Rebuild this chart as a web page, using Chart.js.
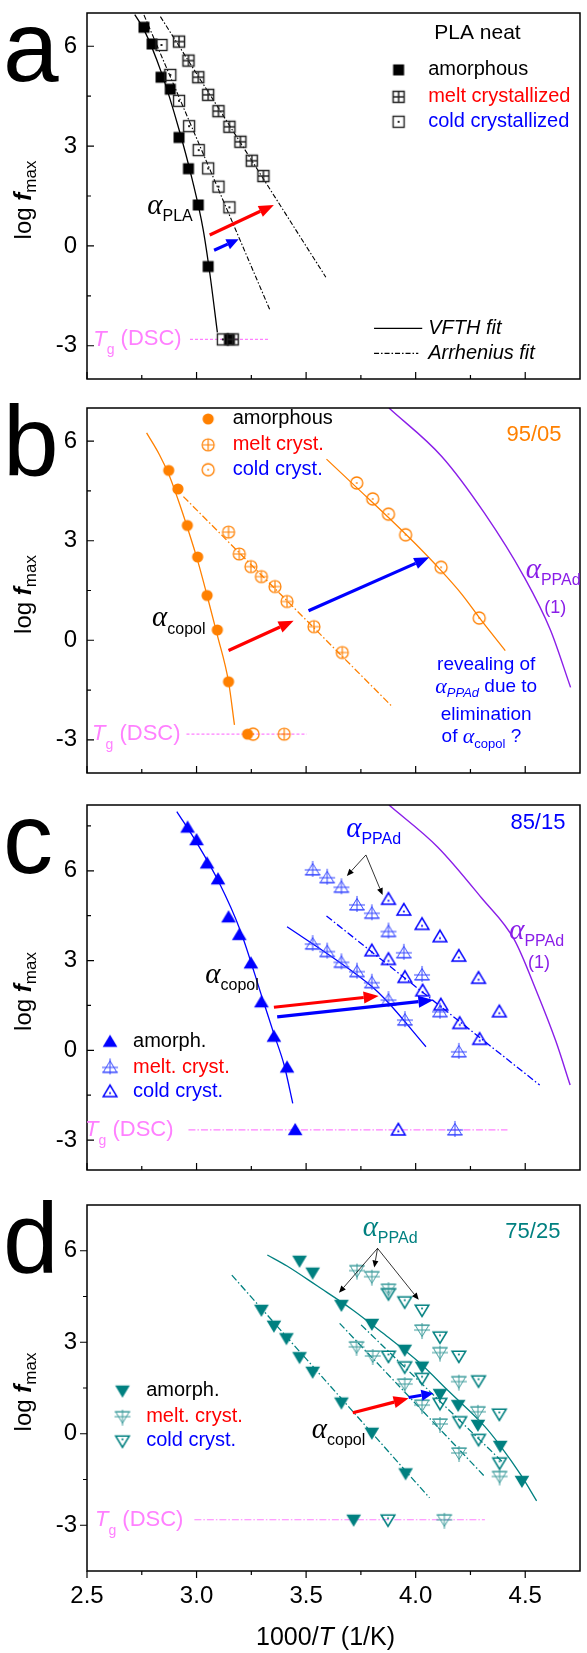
<!DOCTYPE html>
<html>
<head>
<meta charset="utf-8">
<script src="https://cdn.jsdelivr.net/npm/chart.js@4.4.1/dist/chart.umd.min.js"></script>
<style>
  html, body { margin: 0; padding: 0; background: #fff; }
  #wrap { position: relative; width: 587px; height: 1653px; overflow: hidden; }
  #wrap canvas { position: absolute; left: 0; top: 0; }
</style>
</head>
<body>
<div id="wrap">
  <canvas id="pa" width="587" height="1653"></canvas>
  <canvas id="pb" width="587" height="1653"></canvas>
  <canvas id="pc" width="587" height="1653"></canvas>
  <canvas id="pd" width="587" height="1653"></canvas>
</div>
<script>
// ---------- shared axes ----------
const X_MIN = 2.5, X_MAX = 4.75;
const xMajorTicks = [2.5, 3.0, 3.5, 4.0, 4.5];
const xMinorTicks = [2.75, 3.25, 3.75, 4.25];
const xTickText = ['2.5', '3.0', '3.5', '4.0', '4.5'];
const yMajorTicks = [-3, 0, 3, 6];
const yMinorTicks = [-4.5, -1.5, 1.5, 4.5, 7.5];
const yTickText = ['-3', '0', '3', '6'];

// ---------- (a) PLA neat ----------
const aAmorphX = [2.76, 2.797, 2.838, 2.88, 2.92, 2.963, 3.008, 3.053];
const aAmorphY = [6.57, 6.07, 5.07, 4.71, 3.26, 2.32, 1.23, -0.62];
const aMeltX = [2.92, 2.963, 3.008, 3.053, 3.10, 3.15, 3.20, 3.252, 3.305];
const aMeltY = [6.14, 5.57, 5.07, 4.54, 4.05, 3.58, 3.13, 2.56, 2.10];
const aColdX = [2.84, 2.88, 2.92, 2.966, 3.01, 3.053, 3.10, 3.15];
const aColdY = [6.04, 5.14, 4.36, 3.60, 2.88, 2.33, 1.78, 1.16];
const aTgLevel = -2.81;
const aTgAmorphX = [3.15], aTgMeltX = [3.165], aTgColdX = [3.12];
const aTgLineX = [2.970, 3.335];
const aVfthX = [2.718, 2.76, 2.84, 2.92, 2.98, 3.03, 3.06, 3.095];
const aVfthY = [6.95, 6.5, 5.2, 3.5, 2.0, 0.5, -0.8, -2.6];
const aArrColdX = [2.76, 3.335], aArrColdY = [6.94, -1.93];
const aArrMeltX = [2.835, 3.59], aArrMeltY = [6.89, -0.94];

// ---------- (b) 95/05 ----------
const bAmorphX = [2.873, 2.915, 2.958, 3.005, 3.048, 3.095, 3.146];
const bAmorphY = [5.12, 4.56, 3.46, 2.51, 1.35, 0.31, -1.25];
const bMeltX = [3.146, 3.195, 3.248, 3.296, 3.358, 3.413, 3.536, 3.665];
const bMeltY = [3.26, 2.60, 2.22, 1.92, 1.62, 1.17, 0.41, -0.37];
const bColdX = [3.731, 3.804, 3.876, 3.954, 4.116, 4.29];
const bColdY = [4.74, 4.26, 3.80, 3.18, 2.20, 0.67];
const bTgLevel = -2.83;
const bTgAmorphX = [3.233], bTgMeltX = [3.40], bTgColdX = [3.258];
const bTgLineX = [2.954, 3.503];
const bVfthAmX = [2.772, 2.83, 2.873, 2.915, 2.958, 3.005, 3.048, 3.095, 3.146, 3.173];
const bVfthAmY = [6.25, 5.6, 5.0, 4.25, 3.4, 2.4, 1.35, 0.15, -1.25, -2.55];
const bArrMeltX = [2.94, 3.896], bArrMeltY = [4.33, -2.02];
const bVfthColdX = [3.593, 3.731, 3.876, 4.0, 4.116, 4.209, 4.30, 4.409];
const bVfthColdY = [5.46, 4.6, 3.7, 2.9, 2.1, 1.4, 0.6, -0.31];
const bPpadX = [3.878, 4.119, 4.314, 4.494, 4.615, 4.707];
const bPpadY = [7.0, 5.54, 3.83, 1.92, 0.31, -1.42];

// ---------- (c) 85/15 ----------
const cAmorphX = [2.959, 3.0, 3.048, 3.098, 3.146, 3.195, 3.248, 3.296, 3.353, 3.413];
const cAmorphY = [7.45, 7.03, 6.25, 5.72, 4.45, 3.86, 2.91, 1.61, 0.46, -0.57];
const cMeltX = [3.530, 3.596, 3.661, 3.732, 3.800, 3.876, 3.946, 4.029, 4.111, 4.197,
                3.530, 3.596, 3.661, 3.732, 3.800, 3.876, 3.951];
const cMeltY = [6.03, 5.77, 5.45, 4.86, 4.58, 3.97, 3.26, 2.52, 1.29, -0.05,
                3.55, 3.30, 2.94, 2.63, 2.26, 1.68, 1.01];
const cColdX = [3.876, 3.946, 4.029, 4.111, 4.197, 4.287, 4.382,
                3.800, 3.876, 3.951, 4.032, 4.115, 4.201, 4.292];
const cColdY = [5.05, 4.69, 4.21, 3.80, 3.15, 2.41, 1.29,
                3.33, 3.04, 2.44, 1.99, 1.52, 0.90, 0.37];
const cTgLevel = -2.66;
const cTgAmorphX = [3.45], cTgMeltX = [4.179], cTgColdX = [3.921];
const cTgLineX = [2.963, 4.419];
const cVfthAmX = [2.91, 3.0, 3.1, 3.2, 3.3, 3.353, 3.40, 3.439];
const cVfthAmY = [7.98, 6.95, 5.65, 4.0, 1.75, 0.55, -0.5, -1.77];
const cVfthMeltX = [3.413, 3.638, 3.80, 3.864, 4.047];
const cVfthMeltY = [4.13, 3.02, 2.13, 1.68, 0.12];
const cArrColdX = [3.593, 4.566], cArrColdY = [4.49, -1.16];
const cPpadX = [3.878, 4.10, 4.30, 4.45, 4.55, 4.64, 4.705];
const cPpadY = [8.2, 6.8, 5.1, 3.7, 2.0, 0.3, -1.16];

// ---------- (d) 75/25 ----------
const dAmorphX = [3.470, 3.530, 3.661, 3.800, 3.950, 4.029, 4.111, 4.194, 4.284, 4.386, 4.485,
                  3.296, 3.353, 3.410, 3.470, 3.530, 3.661, 3.800, 3.954];
const dAmorphY = [5.67, 5.28, 4.22, 3.60, 2.75, 2.20, 1.30, 0.94, 0.29, -0.40, -1.55,
                  4.06, 3.54, 3.13, 2.51, 2.03, 1.02, 0.03, -1.3];
const dMeltX = [3.732, 3.800, 3.876, 4.029, 4.111, 4.197, 4.284,
                3.730, 3.804, 3.950, 4.029, 4.111, 4.198, 4.383];
const dMeltY = [5.35, 5.15, 4.74, 3.40, 2.66, 1.71, 0.72,
                2.85, 2.55, 1.63, 0.94, 0.32, -0.63, -1.4];
const dColdX = [3.876, 3.950, 4.029, 4.111, 4.197, 4.287, 4.382,
                3.876, 3.950, 4.029, 4.111, 4.201, 4.287, 4.383];
const dColdY = [4.60, 4.33, 4.06, 3.18, 2.55, 1.74, 0.65,
                2.55, 2.20, 1.82, 1.0, 0.4, -0.18, -0.95];
const dTgLevel = -2.82;
const dTgAmorphX = [3.717], dTgMeltX = [4.131], dTgColdX = [3.874];
const dTgLineX = [2.99, 4.316];
const dVfthX = [3.323, 3.413, 3.55, 3.713, 3.85, 4.014, 4.15, 4.314, 4.389, 4.48, 4.552];
const dVfthY = [5.86, 5.5, 4.85, 4.06, 3.3, 2.35, 1.4, 0.25, -0.42, -1.35, -2.2];
const dArrAmX = [3.161, 4.063], dArrAmY = [5.2, -2.1];
const dArrMeltX = [3.653, 4.316], dArrMeltY = [3.62, -1.41];
const dArrColdX = [3.751, 4.40], dArrColdY = [3.57, -0.95];

// ---------- styling ----------
const SANS = '"Liberation Sans", Arial, Helvetica, sans-serif';
const SERIF = '"Liberation Serif", "DejaVu Serif", serif';
const ORANGE = '#ff8000', BLUE = '#0000ff', TEAL = '#008080', PURPLE = '#8a1ee8', PINK = '#ff80ff', RED = '#ff0000';
const PLOT_LEFT = 87, PLOT_RIGHT = 586, PAGE_H = 1653, PAGE_W = 587;

const zip = (xs, ys) => xs.map((x, i) => ({ x, y: ys[i] }));
const flat = (xs, y) => xs.map(x => ({ x, y }));

// ---------- marker glyphs ----------
function marker(kind, color, lw) {
  const S = 22, m = S / 2;
  const c = document.createElement('canvas');
  c.width = S; c.height = S;
  const g = c.getContext('2d');
  g.strokeStyle = color; g.fillStyle = color; g.lineWidth = lw || 1.3;
  g.lineJoin = 'miter';
  const tri = (down, h) => {
    const s = down ? -1 : 1;
    g.beginPath();
    g.moveTo(m, m - s * h);
    g.lineTo(m - h * 1.05, m + s * h * 0.75);
    g.lineTo(m + h * 1.05, m + s * h * 0.75);
    g.closePath();
  };
  switch (kind) {
    case 'sqFill': g.fillRect(m - 5.5, m - 5.5, 11, 11); break;
    case 'sqCross':
      g.strokeRect(m - 5.5, m - 5.5, 11, 11);
      g.beginPath(); g.moveTo(m, m - 5.5); g.lineTo(m, m + 5.5); g.moveTo(m - 5.5, m); g.lineTo(m + 5.5, m); g.stroke();
      break;
    case 'sqDot':
      g.strokeRect(m - 5.5, m - 5.5, 11, 11);
      g.fillRect(m - 1, m - 1, 2, 2);
      break;
    case 'cirFill': g.beginPath(); g.arc(m, m, 5.6, 0, Math.PI * 2); g.fill(); break;
    case 'cirCross':
      g.beginPath(); g.arc(m, m, 6, 0, Math.PI * 2); g.stroke();
      g.beginPath(); g.moveTo(m, m - 6); g.lineTo(m, m + 6); g.moveTo(m - 6, m); g.lineTo(m + 6, m); g.stroke();
      break;
    case 'cirDot':
      g.beginPath(); g.arc(m, m, 6, 0, Math.PI * 2); g.stroke();
      g.fillRect(m - 0.8, m - 0.8, 1.6, 1.6);
      break;
    case 'triUpFill': tri(false, 7); g.fill(); break;
    case 'triDownFill': tri(true, 7); g.fill(); break;
    case 'triUpDot': tri(false, 6.5); g.stroke(); g.fillRect(m - 0.9, m + 0.6, 1.8, 1.8); break;
    case 'triDownDot': tri(true, 6.5); g.stroke(); g.fillRect(m - 0.9, m - 2.4, 1.8, 1.8); break;
    case 'triUpCross':
      tri(false, 6.5); g.stroke();
      g.beginPath(); g.moveTo(m, m - 9); g.lineTo(m, m + 7);
      g.moveTo(m - 8, m); g.lineTo(m + 8, m);
      g.moveTo(m - 8, m + 4.9); g.lineTo(m + 8, m + 4.9); g.stroke();
      break;
    case 'triDownCross':
      tri(true, 6.5); g.stroke();
      g.beginPath(); g.moveTo(m, m + 9); g.lineTo(m, m - 7);
      g.moveTo(m - 8, m); g.lineTo(m + 8, m);
      g.moveTo(m - 8, m - 4.9); g.lineTo(m + 8, m - 4.9); g.stroke();
      break;
  }
  return c;
}

// ---------- dataset helpers ----------
function pts(data, glyph) {
  return { data, pointStyle: glyph, pointRadius: 6, showLine: false, order: 1, clip: false };
}
function curve(data, color, dash, width) {
  return {
    data, showLine: true, pointRadius: 0, borderColor: color, borderWidth: width || 1.3,
    borderDash: dash || [], tension: 0.4, cubicInterpolationMode: 'monotone', order: 2, fill: false
  };
}
const DASHDOT = [7, 2.5, 1.5, 2.5];
const FINE_DASHDOT = [5, 2, 1.5, 2];

// ---------- text helpers ----------
function drawRuns(ctx, x, y, runs, align) {
  let w = 0;
  runs.forEach(r => { ctx.font = r.f; r.w = ctx.measureText(r.t).width; w += r.w; });
  let cx = align === 'center' ? x - w / 2 : align === 'right' ? x - w : x;
  ctx.textAlign = 'left'; ctx.textBaseline = 'middle';
  runs.forEach(r => { ctx.font = r.f; ctx.fillStyle = r.c; ctx.fillText(r.t, cx, y + (r.dy || 0)); cx += r.w; });
}
const R = (t, f, c, dy) => ({ t, f, c, dy: dy || 0 });
const ALPHA = c => R('α', 'italic 29px ' + SERIF, c);
const SUB = (t, c) => R(t, '16px ' + SANS, c, 11);

function arrow(ctx, x0, y0, x1, y1, color, w, hl, hw) {
  const a = Math.atan2(y1 - y0, x1 - x0);
  const bx = x1 - hl * Math.cos(a), by = y1 - hl * Math.sin(a);
  ctx.strokeStyle = color; ctx.fillStyle = color; ctx.lineWidth = w; ctx.lineCap = 'butt';
  ctx.beginPath(); ctx.moveTo(x0, y0); ctx.lineTo(bx, by); ctx.stroke();
  ctx.beginPath();
  ctx.moveTo(x1, y1);
  ctx.lineTo(bx + hw * Math.sin(a), by - hw * Math.cos(a));
  ctx.lineTo(bx - hw * Math.sin(a), by + hw * Math.cos(a));
  ctx.closePath(); ctx.fill();
}

// ---------- frame, ticks, labels and annotations ----------
const decor = {
  id: 'decor',
  afterDraw(chart, args, o) {
    const { ctx, chartArea: ca, scales: { x, y } } = chart;
    const px = v => x.getPixelForValue(v), py = v => y.getPixelForValue(v);
    ctx.save();
    ctx.strokeStyle = '#000'; ctx.lineWidth = 1.5;
    ctx.strokeRect(ca.left, ca.top, ca.right - ca.left, ca.bottom - ca.top);
    const dir = o.outward ? 1 : -1;
    ctx.lineWidth = 1.2;
    ctx.beginPath();
    xMajorTicks.forEach(v => { ctx.moveTo(px(v), ca.bottom); ctx.lineTo(px(v), ca.bottom + dir * 7); });
    xMinorTicks.forEach(v => { ctx.moveTo(px(v), ca.bottom); ctx.lineTo(px(v), ca.bottom + dir * 4); });
    yMajorTicks.forEach(v => { if (v >= y.min && v <= y.max) { ctx.moveTo(ca.left, py(v)); ctx.lineTo(ca.left - dir * 7, py(v)); } });
    yMinorTicks.forEach(v => { if (v > y.min && v < y.max) { ctx.moveTo(ca.left, py(v)); ctx.lineTo(ca.left - dir * 4, py(v)); } });
    ctx.stroke();

    ctx.fillStyle = '#000';
    ctx.font = '24px ' + SANS; ctx.textAlign = 'right'; ctx.textBaseline = 'middle';
    yMajorTicks.forEach((v, i) => { ctx.fillText(yTickText[i], ca.left - 10, py(v)); });
    if (o.xLabels) {
      ctx.textAlign = 'center'; ctx.textBaseline = 'middle';
      xMajorTicks.forEach((v, i) => ctx.fillText(xTickText[i], px(v), ca.bottom + 25));
      drawRuns(ctx, (ca.left + ca.right) / 2 - 8, ca.bottom + 67, [
        R('1000/', '25px ' + SANS, '#000'), R('T', 'italic 25px ' + SANS, '#000'), R(' (1/K)', '25px ' + SANS, '#000')
      ], 'center');
    }
    // y-axis title
    ctx.save();
    ctx.translate(24, (ca.top + ca.bottom) / 2 + 4);
    ctx.rotate(-Math.PI / 2);
    drawRuns(ctx, 0, 0, [R('log ', '24px ' + SANS, '#000'), R('f', 'italic bold 24px ' + SANS, '#000'), R('max', '17px ' + SANS, '#000', 7)], 'center');
    ctx.restore();
    // panel letter
    ctx.font = '100px ' + SANS; ctx.fillStyle = '#000'; ctx.textAlign = 'left'; ctx.textBaseline = 'alphabetic';
    ctx.fillText(o.letter, 3, ca.top + o.letterDy);

    // Tg(DSC) label
    drawRuns(ctx, px(o.tgLabelX), py(o.tgLevel), [R('T', 'italic 22px ' + SANS, PINK), R('g', '14px ' + SANS, PINK, 11), R(' (DSC)', '22px ' + SANS, PINK)], 'right');

    (o.arrows || []).forEach(a => arrow(ctx, px(a.x[0]), py(a.y[0]), px(a.x[1]), py(a.y[1]), a.c, a.w, a.hl, a.hw));
    (o.texts || []).forEach(t => drawRuns(ctx, px(t.x), py(t.y), t.runs, t.align || 'left'));
    (o.legend || []).forEach(l => {
      const g = l.glyph;
      if (g) ctx.drawImage(g, px(l.mx) - g.width / 2, py(l.y) - g.height / 2);
      if (l.line) {
        ctx.strokeStyle = '#000'; ctx.lineWidth = 1.3; ctx.setLineDash(l.line);
        ctx.beginPath(); ctx.moveTo(px(l.lx[0]), py(l.y)); ctx.lineTo(px(l.lx[1]), py(l.y)); ctx.stroke();
        ctx.setLineDash([]);
      }
      drawRuns(ctx, px(l.tx), py(l.y), l.runs, 'left');
    });
    ctx.restore();
  }
};

function makePanel(id, p) {
  return new Chart(document.getElementById(id), {
    type: 'scatter',
    data: { datasets: p.datasets },
    options: {
      responsive: false, animation: false, devicePixelRatio: 1, events: [],
      layout: { padding: { left: PLOT_LEFT, right: PAGE_W - PLOT_RIGHT, top: p.top, bottom: PAGE_H - p.bottom } },
      scales: {
        x: { type: 'linear', min: X_MIN, max: X_MAX, display: false },
        y: { type: 'linear', min: p.ymin, max: p.ymax, display: false }
      },
      plugins: { legend: { display: false }, tooltip: { enabled: false }, decor: p.decor }
    },
    plugins: [decor]
  });
}

const L20 = '20px ' + SANS;
const L19 = '19px ' + SANS;

// ----- panel a -----
const gA = { am: marker('sqFill', '#000'), me: marker('sqCross', '#222', 1.5), co: marker('sqDot', '#222', 1.4) };
makePanel('pa', {
  top: 13, bottom: 379, ymin: -4, ymax: 7,
  datasets: [
    curve(zip(aVfthX, aVfthY), '#000'),
    curve(zip(aArrColdX, aArrColdY), '#000', FINE_DASHDOT, 1.1),
    curve(zip(aArrMeltX, aArrMeltY), '#000', FINE_DASHDOT, 1.1),
    curve(flat(aTgLineX, aTgLevel), PINK, [3, 2], 1.2),
    pts(zip(aMeltX, aMeltY), gA.me), pts(zip(aColdX, aColdY), gA.co), pts(zip(aAmorphX, aAmorphY), gA.am),
    pts(flat(aTgMeltX, aTgLevel), gA.me), pts(flat(aTgAmorphX, aTgLevel), gA.am), pts(flat(aTgColdX, aTgLevel), gA.co)
  ],
  decor: {
    letter: 'a', letterDy: 68, tgLevel: aTgLevel, tgLabelX: 2.932,
    arrows: [
      { x: [3.06, 3.353], y: [0.33, 1.23], c: RED, w: 3.2, hl: 15, hw: 6 },
      { x: [3.08, 3.192], y: [-0.13, 0.20], c: BLUE, w: 3.2, hl: 12, hw: 5.5 }
    ],
    texts: [
      { x: 2.775, y: 1.20, runs: [ALPHA('#000'), SUB('PLA', '#000')] },
      { x: 4.282, y: 6.39, align: 'center', runs: [R('PLA neat', '21px ' + SANS, '#000')] }
    ],
    legend: [
      { mx: 3.922, tx: 4.057, y: 5.29, glyph: gA.am, runs: [R('amorphous', L20, '#000')] },
      { mx: 3.922, tx: 4.057, y: 4.48, glyph: gA.me, runs: [R('melt crystallized', L20, RED)] },
      { mx: 3.922, tx: 4.057, y: 3.73, glyph: gA.co, runs: [R('cold crystallized', L20, BLUE)] },
      { lx: [3.81, 4.03], line: [], tx: 4.057, y: -2.48, runs: [R('VFTH fit', 'italic 20px ' + SANS, '#000')] },
      { lx: [3.81, 4.012], line: FINE_DASHDOT, tx: 4.057, y: -3.23, runs: [R('Arrhenius fit', 'italic 20px ' + SANS, '#000')] }
    ]
  }
});

// ----- panel b -----
const gB = { am: marker('cirFill', ORANGE), me: marker('cirCross', ORANGE, 1.2), co: marker('cirDot', ORANGE, 1.3) };
makePanel('pb', {
  top: 408, bottom: 773, ymin: -4, ymax: 7,
  datasets: [
    curve(zip(bVfthAmX, bVfthAmY), ORANGE),
    curve(zip(bArrMeltX, bArrMeltY), ORANGE, DASHDOT),
    curve(zip(bVfthColdX, bVfthColdY), ORANGE),
    curve(zip(bPpadX, bPpadY), PURPLE, [], 1.4),
    curve(flat(bTgLineX, bTgLevel), PINK, [3, 2], 1.2),
    pts(zip(bMeltX, bMeltY), gB.me), pts(zip(bColdX, bColdY), gB.co), pts(zip(bAmorphX, bAmorphY), gB.am),
    pts(flat(bTgMeltX, bTgLevel), gB.me), pts(flat(bTgAmorphX, bTgLevel), gB.am), pts(flat(bTgColdX, bTgLevel), gB.co)
  ],
  decor: {
    letter: 'b', letterDy: 68, tgLevel: bTgLevel, tgLabelX: 2.927,
    arrows: [
      { x: [3.146, 3.443], y: [-0.31, 0.59], c: RED, w: 3.2, hl: 15, hw: 6 },
      { x: [3.511, 4.062], y: [0.89, 2.5], c: BLUE, w: 3.2, hl: 15, hw: 6 }
    ],
    texts: [
      { x: 2.797, y: 0.665, runs: [ALPHA('#000'), SUB('copol', '#000')] },
      { x: 4.54, y: 6.19, align: 'center', runs: [R('95/05', '22px ' + SANS, ORANGE)] },
      { x: 4.502, y: 2.12, runs: [ALPHA(PURPLE), SUB('PPAd', PURPLE)] },
      { x: 4.637, y: 0.97, align: 'center', runs: [R('(1)', '18px ' + SANS, PURPLE)] },
      { x: 4.322, y: -0.74, align: 'center', runs: [R('revealing of', L19, BLUE)] },
      { x: 4.322, y: -1.40, align: 'center', runs: [R('α', 'italic 22px ' + SERIF, BLUE), R('PPAd', 'italic 13px ' + SANS, BLUE, 7), R(' due to', L19, BLUE)] },
      { x: 4.322, y: -2.25, align: 'center', runs: [R('elimination', L19, BLUE)] },
      { x: 4.30, y: -2.91, align: 'center', runs: [R('of ', L19, BLUE), R('α', 'italic 22px ' + SERIF, BLUE), R('copol', '13px ' + SANS, BLUE, 8), R(' ?', L19, BLUE)] }
    ],
    legend: [
      { mx: 3.053, tx: 3.165, y: 6.67, glyph: gB.am, runs: [R('amorphous', L20, '#000')] },
      { mx: 3.053, tx: 3.165, y: 5.89, glyph: gB.me, runs: [R('melt cryst.', L20, RED)] },
      { mx: 3.053, tx: 3.165, y: 5.14, glyph: gB.co, runs: [R('cold cryst.', L20, BLUE)] }
    ]
  }
});

// ----- panel c -----
const gC = { am: marker('triUpFill', BLUE), me: marker('triUpCross', '#3344ff', 1.0), co: marker('triUpDot', BLUE, 1.5) };
makePanel('pc', {
  top: 805, bottom: 1170, ymin: -4, ymax: 8.2,
  datasets: [
    curve(zip(cVfthAmX, cVfthAmY), BLUE),
    curve(zip(cVfthMeltX, cVfthMeltY), BLUE),
    curve(zip(cArrColdX, cArrColdY), BLUE, DASHDOT),
    curve(zip(cPpadX, cPpadY), PURPLE, [], 1.4),
    curve(flat(cTgLineX, cTgLevel), PINK, [7, 2, 1.5, 2], 1.2),
    pts(zip(cMeltX, cMeltY), gC.me), pts(zip(cColdX, cColdY), gC.co), pts(zip(cAmorphX, cAmorphY), gC.am),
    pts(flat(cTgMeltX, cTgLevel), gC.me), pts(flat(cTgAmorphX, cTgLevel), gC.am), pts(flat(cTgColdX, cTgLevel), gC.co)
  ],
  decor: {
    letter: 'c', letterDy: 68, tgLevel: cTgLevel, tgLabelX: 2.895,
    arrows: [
      { x: [3.353, 3.831], y: [1.44, 1.82], c: RED, w: 3.2, hl: 15, hw: 6 },
      { x: [3.368, 4.081], y: [1.12, 1.68], c: BLUE, w: 3.2, hl: 15, hw: 6 },
      { x: [3.773, 3.686], y: [6.53, 5.83], c: '#000', w: 0.8, hl: 7, hw: 3 },
      { x: [3.773, 3.849], y: [6.53, 5.19], c: '#000', w: 0.8, hl: 7, hw: 3 }
    ],
    texts: [
      { x: 3.040, y: 2.52, runs: [ALPHA('#000'), SUB('copol', '#000')] },
      { x: 3.683, y: 7.40, runs: [ALPHA(BLUE), SUB('PPAd', BLUE)] },
      { x: 4.558, y: 7.6, align: 'center', runs: [R('85/15', '22px ' + SANS, BLUE)] },
      { x: 4.427, y: 3.99, runs: [ALPHA(PURPLE), SUB('PPAd', PURPLE)] },
      { x: 4.563, y: 2.91, align: 'center', runs: [R('(1)', '18px ' + SANS, PURPLE)] }
    ],
    legend: [
      { mx: 2.605, tx: 2.71, y: 0.29, glyph: gC.am, runs: [R('amorph.', L20, '#000')] },
      { mx: 2.605, tx: 2.71, y: -0.57, glyph: gC.me, runs: [R('melt. cryst.', L20, RED)] },
      { mx: 2.605, tx: 2.71, y: -1.38, glyph: gC.co, runs: [R('cold cryst.', L20, BLUE)] }
    ]
  }
});

// ----- panel d -----
const gD = { am: marker('triDownFill', TEAL), me: marker('triDownCross', '#3a9a9a', 1.0), co: marker('triDownDot', TEAL, 1.5) };
makePanel('pd', {
  top: 1205, bottom: 1571, ymin: -4.5, ymax: 7.5,
  datasets: [
    curve(zip(dVfthX, dVfthY), TEAL),
    curve(zip(dArrAmX, dArrAmY), TEAL, DASHDOT),
    curve(zip(dArrMeltX, dArrMeltY), TEAL, DASHDOT),
    curve(zip(dArrColdX, dArrColdY), TEAL, DASHDOT),
    curve(flat(dTgLineX, dTgLevel), PINK, [7, 2, 1.5, 2], 1.2),
    pts(zip(dMeltX, dMeltY), gD.me), pts(zip(dColdX, dColdY), gD.co), pts(zip(dAmorphX, dAmorphY), gD.am),
    pts(flat(dTgMeltX, dTgLevel), gD.me), pts(flat(dTgAmorphX, dTgLevel), gD.am), pts(flat(dTgColdX, dTgLevel), gD.co)
  ],
  decor: {
    letter: 'd', letterDy: 68, tgLevel: dTgLevel, tgLabelX: 2.94, xLabels: true, outward: true,
    arrows: [
      { x: [3.713, 3.968], y: [0.69, 1.16], c: RED, w: 3.2, hl: 15, hw: 6 },
      { x: [3.968, 4.081], y: [1.19, 1.33], c: BLUE, w: 3.2, hl: 12, hw: 5.5 },
      { x: [3.826, 3.65], y: [6.08, 4.62], c: '#000', w: 0.8, hl: 7, hw: 3 },
      { x: [3.826, 3.811], y: [6.08, 5.45], c: '#000', w: 0.8, hl: 7, hw: 3 },
      { x: [3.826, 4.014], y: [6.08, 4.39], c: '#000', w: 0.8, hl: 7, hw: 3 }
    ],
    texts: [
      { x: 3.526, y: 0.12, runs: [ALPHA('#000'), SUB('copol', '#000')] },
      { x: 3.758, y: 6.75, runs: [ALPHA(TEAL), SUB('PPAd', TEAL)] },
      { x: 4.535, y: 6.62, align: 'center', runs: [R('75/25', '22px ' + SANS, TEAL)] }
    ],
    legend: [
      { mx: 2.662, tx: 2.77, y: 1.41, glyph: gD.am, runs: [R('amorph.', L20, '#000')] },
      { mx: 2.662, tx: 2.77, y: 0.56, glyph: gD.me, runs: [R('melt. cryst.', L20, RED)] },
      { mx: 2.662, tx: 2.77, y: -0.23, glyph: gD.co, runs: [R('cold cryst.', L20, BLUE)] }
    ]
  }
});
</script>
</body>
</html>
